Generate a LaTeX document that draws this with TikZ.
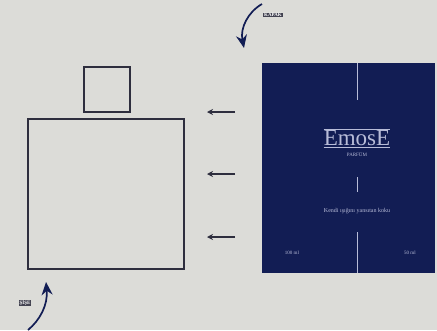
\documentclass[tikz,border=0pt]{standalone}
\usepackage{fontspec}
\setmainfont{Liberation Serif}
\usetikzlibrary{arrows.meta}
\definecolor{bg}{HTML}{DCDCD8}
\definecolor{navy}{HTML}{121D54}
\definecolor{outline}{HTML}{2E2E3E}
\definecolor{pale}{HTML}{B8BCD8}
\begin{document}
\begin{tikzpicture}[x=1pt,y=-1pt,
  boxline/.style={draw=outline,line width=1.2pt},
  pusharrow/.style={draw=outline,line width=1.4pt,-{Stealth[length=6pt,width=6pt]}},
  curvearrow/.style={draw=navy,line width=1.7pt,-{Stealth[length=13pt,width=11pt]}},
  tagtext/.style={fill=outline!90,text=white,font=\fontsize{5}{5}\selectfont\bfseries,inner sep=0.8pt},
  smalltext/.style={text=pale,font=\fontsize{5}{5}\selectfont,inner sep=0pt},
  divider/.style={draw=pale,line width=0.8pt}]
\fill[bg] (0,0) rectangle (437,330);
\useasboundingbox (0,0) rectangle (437,330);
% bottle
\draw[boxline] (84,67) rectangle (130,112);
\draw[boxline] (28,119) rectangle (184,269);
% arrows
\coordinate (a1s) at (235,112); \coordinate (a1e) at (207,112);
\coordinate (a2s) at (235,174); \coordinate (a2e) at (207,174);
\coordinate (a3s) at (235,237); \coordinate (a3e) at (207,237);
\draw[pusharrow] (a1s) -- (a1e);
\draw[pusharrow] (a2s) -- (a2e);
\draw[pusharrow] (a3s) -- (a3e);
% label panel
\fill[navy] (262,63) rectangle (435,273);
\coordinate (v1) at (357,63); \coordinate (v2) at (357,100);
\coordinate (v3) at (357,177); \coordinate (v4) at (357,192);
\coordinate (v5) at (357,232); \coordinate (v6) at (357,273);
\draw[divider] (v1) -- (v2);
\draw[divider] (v3) -- (v4);
\draw[divider] (v5) -- (v6);
\node[text=pale,font=\fontsize{23}{23}\selectfont,inner sep=0pt] (brand) at (357,138.5) {EmosE};
\draw[pale,line width=0.8pt] ([yshift=1.2pt]brand.north west) -- ([yshift=1.2pt]brand.north east);
\draw[pale,line width=0.8pt] ([yshift=-1.2pt]brand.south west) -- ([yshift=-1.2pt]brand.south east);
\node[smalltext] (sub) at (357,154) {PARFÜM};
\node[smalltext,font=\fontsize{6}{6}\selectfont] (slogan) at (357,211) {Kendi ışığını yansıtan koku};
\node[smalltext] (vol) at (292,253) {100 ml};
\node[smalltext] (edp) at (410,253) {50 ml};
% curved arrows
\node[tagtext] (kapak) at (273,15) {KAPAK};
\coordinate (k1) at (262,4);
\coordinate (k2) at (244,48);
\draw[curvearrow] (k1) .. controls (248,12) and (240,28) .. (k2);
\node[tagtext] (sise) at (25,303) {ŞİŞE};
\coordinate (s1) at (28,330);
\coordinate (s2) at (46,282);
\draw[curvearrow] (s1) .. controls (40,320) and (48,305) .. (s2);
\end{tikzpicture}
\end{document}
